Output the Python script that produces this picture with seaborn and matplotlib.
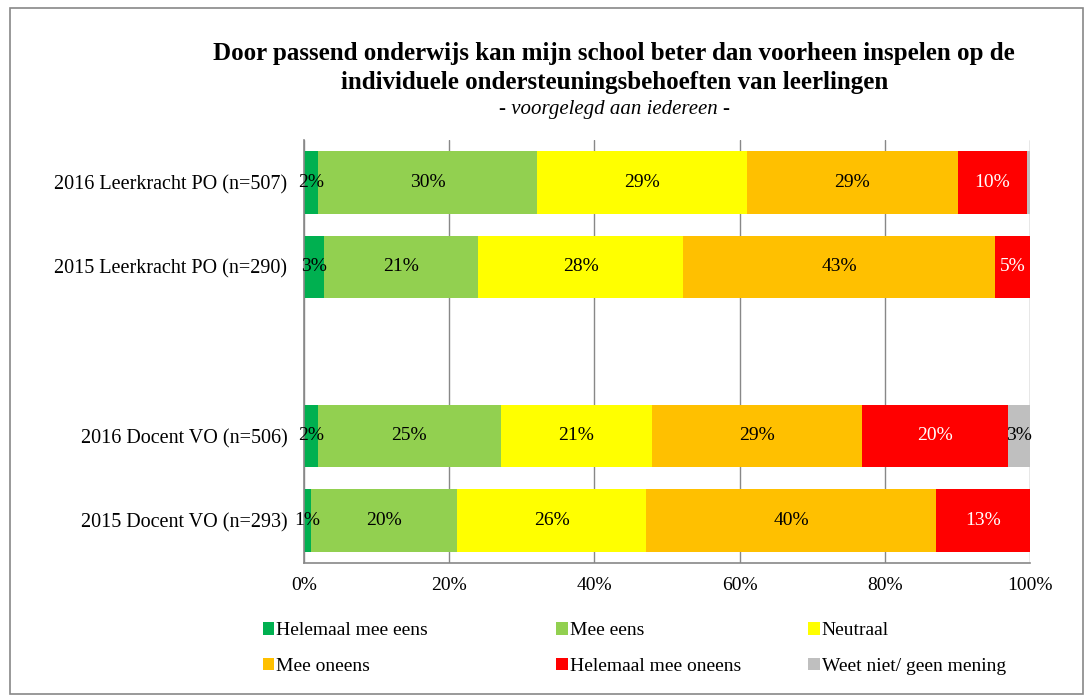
import numpy as np
import pandas as pd
import matplotlib
matplotlib.use("Agg")
import matplotlib.pyplot as plt
from matplotlib.patches import Patch, Rectangle
import seaborn as sns

# --- data (percentages) ---
groups = ["2016 Leerkracht PO (n=507)", "2015 Leerkracht PO (n=290)", " ",
          "2016 Docent VO (n=506)", "2015 Docent VO (n=293)"]
answers = ["Helemaal mee eens", "Mee eens", "Neutraal", "Mee oneens",
           "Helemaal mee oneens", "Weet niet/ geen mening"]
helemaal_eens = [1.9, 2.8, 0, 1.9, 1.0]
mee_eens = [30.2, 21.2, 0, 25.2, 20.1]
neutraal = [28.9, 28.2, 0, 20.8, 26.0]
mee_oneens = [29.0, 43.0, 0, 29.0, 40.0]
helemaal_oneens = [9.6, 4.8, 0, 20.1, 12.9]
weet_niet = [0.4, 0, 0, 3.0, 0]
colors = ["#00B050", "#92D050", "#FFFF00", "#FFC000", "#FF0000", "#BFBFBF"]
label_colors = ["black", "black", "black", "black", "white", "black"]

series = [helemaal_eens, mee_eens, neutraal, mee_oneens, helemaal_oneens, weet_niet]
vals = pd.DataFrame(dict(zip(answers, series)), index=groups)
cum = vals.cumsum(axis=1)

sns.set_style("white")
plt.rcParams["font.family"] = ["Liberation Serif", "DejaVu Serif"]
plt.rcParams["text.color"] = "black"
plt.rcParams["xtick.labelcolor"] = "black"
plt.rcParams["ytick.labelcolor"] = "black"

fig = plt.figure(figsize=(10.87, 7), dpi=100)
ax = fig.add_axes([0.2797, 0.196, 0.668, 0.604])

# stacked bars: draw cumulative totals, widest first
for i in range(len(answers) - 1, -1, -1):
    d = pd.DataFrame({"groep": groups, "cum": cum[answers[i]].values})
    sns.barplot(data=d, x="cum", y="groep", order=groups, color=colors[i],
                orient="h", width=0.74, linewidth=0, saturation=1, ax=ax)

# segment labels
for r, g in enumerate(groups):
    start = 0
    for i, a in enumerate(answers):
        v = vals.loc[g, a]
        if v >= 0.5:
            ax.text(start + v / 2, r, f"{round(v):.0f}%", ha="center", va="center",
                    fontsize=14, color=label_colors[i])
        start += v

ax.set_xlim(0, 100)
ax.set_ylim(len(groups) - 0.5, -0.5)
ax.set_xticks(range(0, 101, 20))
ax.set_xticklabels([f"{t}%" for t in range(0, 101, 20)], fontsize=14)
ax.set_yticks(range(len(groups)))
ax.set_yticklabels(groups, fontsize=14.5)
ax.set_yticks(np.arange(-0.5, len(groups)), minor=True)
ax.tick_params(axis="y", which="major", length=0, pad=12)
ax.tick_params(axis="y", which="minor", length=5, color="#888888", direction="out")
ax.tick_params(axis="x", length=5, color="#888888", direction="out", pad=5)
ax.set_xlabel("")
ax.set_ylabel("")
ax.grid(axis="x", color="#888888", linewidth=1)
ax.set_axisbelow(True)
for s in ["top", "right"]:
    ax.spines[s].set_visible(False)
for s in ["left", "bottom"]:
    ax.spines[s].set_color("#888888")
    ax.spines[s].set_linewidth(1.2)

# title
fig.text(0.565, 0.903, "Door passend onderwijs kan mijn school beter dan voorheen inspelen op de\n"
         "individuele ondersteuningsbehoeften van leerlingen",
         ha="center", va="center", fontsize=18, fontweight="bold", linespacing=1.35)
fig.text(0.565, 0.844, "- voorgelegd aan iedereen -", ha="center", va="center",
         fontsize=15, style="italic")

# legend: three columns at fixed positions, two rows each
handles = [Patch(facecolor=c, edgecolor="none") for c in colors]
col_x = [0.2415, 0.5115, 0.7435]
for c in range(3):
    idx = [c, c + 3]
    leg = fig.legend([handles[k] for k in idx], [answers[k] for k in idx], ncol=1,
                     loc="upper left", bbox_to_anchor=(col_x[c], 0.111), frameon=False,
                     fontsize=14, handlelength=0.6, handleheight=0.6, handletextpad=0.1,
                     labelspacing=0.95, borderaxespad=0, borderpad=0)

# outer frame
fig.patches.append(Rectangle((0.009, 0.008), 0.987, 0.98, transform=fig.transFigure,
                             fill=False, edgecolor="#888888", linewidth=1.2))

fig.savefig("out.png", dpi=100)
